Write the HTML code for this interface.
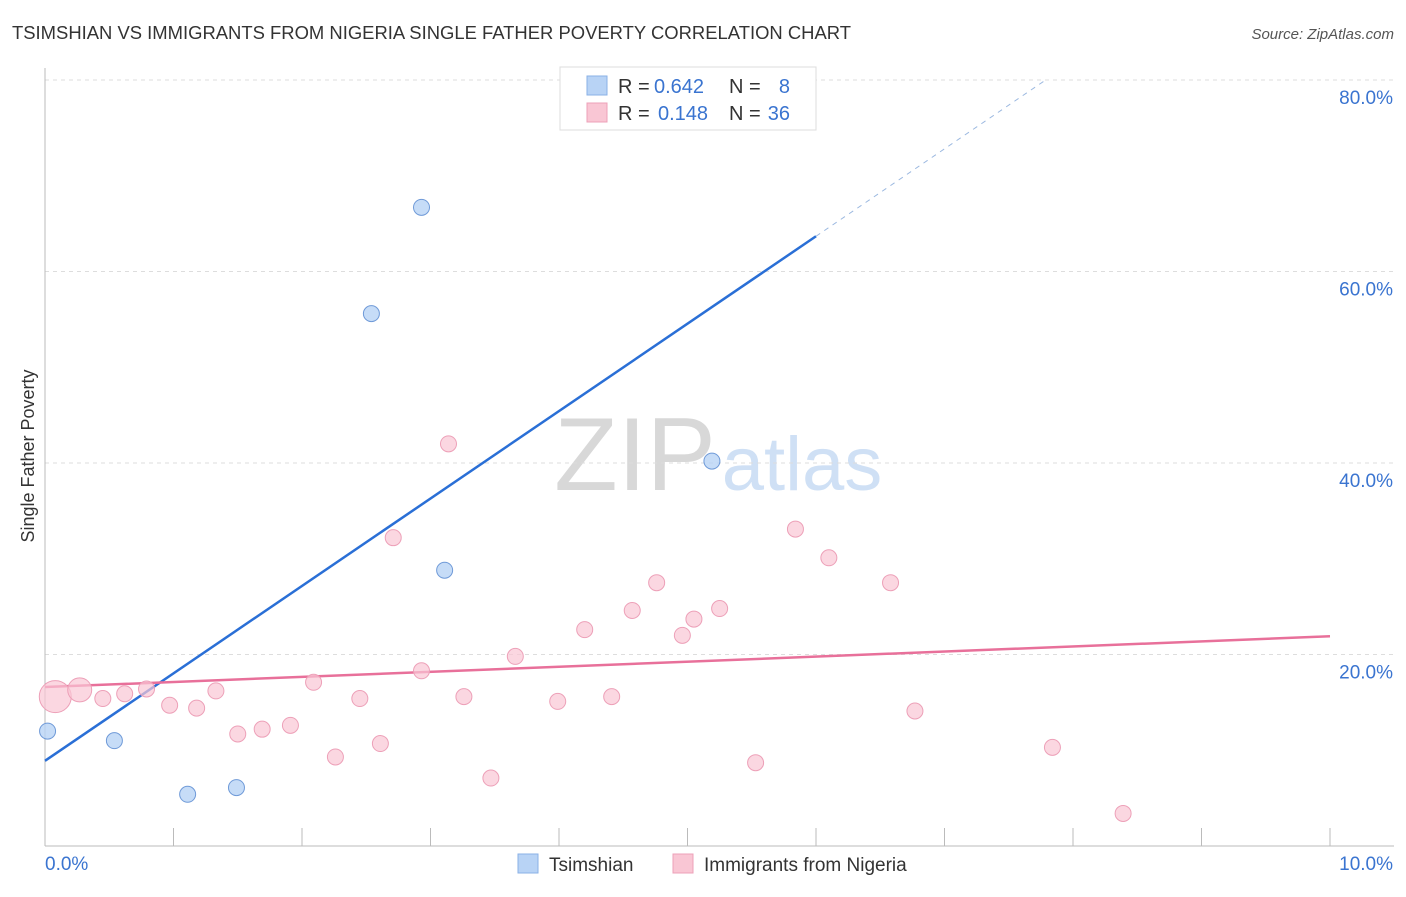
<!DOCTYPE html>
<html><head><meta charset="utf-8"><style>
body{margin:0;background:#fff;font-family:"Liberation Sans",sans-serif;}
svg text{font-family:"Liberation Sans",sans-serif;}
</style></head><body>
<svg id="chart" width="1406" height="892">
<text x="12" y="39" font-size="18" fill="#333" textLength="839" lengthAdjust="spacingAndGlyphs">TSIMSHIAN VS IMMIGRANTS FROM NIGERIA SINGLE FATHER POVERTY CORRELATION CHART</text>
<text x="1394" y="39" font-size="15" fill="#555" font-style="italic" text-anchor="end">Source: ZipAtlas.com</text>
<text x="635" y="490" font-size="104" fill="#d8d8d8" font-family="Liberation Serif" text-anchor="middle">ZIP</text>
<text x="802" y="490" font-size="76" fill="#cfe0f5" text-anchor="middle">atlas</text>
<g id="grid"></g>
<g id="axes"></g>
<g id="lines"></g>
<g id="points"></g>
<text x="34" y="456" font-size="18" fill="#333" text-anchor="middle" transform="rotate(-90 34 456)">Single Father Poverty</text>
<g>
<rect x="560" y="67" width="256" height="63" fill="#fff" stroke="#ddd"/>
<rect x="587" y="76" width="20" height="19" fill="#b8d3f5" stroke="#8ab0e6"/>
<rect x="587" y="103" width="20" height="19" fill="#f9c6d4" stroke="#eda0b8"/>
<text x="618" y="93" font-size="20" fill="#333">R =</text><text x="654" y="93" font-size="20" fill="#3a74d0">0.642</text>
<text x="729" y="93" font-size="20" fill="#333">N =</text><text x="790" y="93" font-size="20" fill="#3a74d0" text-anchor="end">8</text>
<text x="618" y="120" font-size="20" fill="#333">R =</text><text x="658" y="120" font-size="20" fill="#3a74d0">0.148</text>
<text x="729" y="120" font-size="20" fill="#333">N =</text><text x="790" y="120" font-size="20" fill="#3a74d0" text-anchor="end">36</text>
</g>
<g>
<rect x="518" y="854" width="20" height="19" fill="#b8d3f5" stroke="#8ab0e6"/>
<text x="549" y="871" font-size="19" fill="#333">Tsimshian</text>
<rect x="673" y="854" width="20" height="19" fill="#f9c6d4" stroke="#eda0b8"/>
<text x="704" y="871" font-size="19" fill="#333">Immigrants from Nigeria</text>
</g>
</svg>
<script>
const blueX=[2.93,2.54,5.19,3.11,0.02,0.54,1.11,1.49];
const blueY=[66.7,55.6,40.2,28.8,12.0,11.0,5.4,6.1];
const pinkX=[0.08,0.27,0.45,0.62,0.79,0.97,1.18,1.33,1.50,1.69,1.91,2.09,2.26,2.45,2.61,2.71,2.93,3.14,3.26,3.47,3.66,3.99,4.20,4.41,4.57,4.76,4.96,5.05,5.25,5.53,5.84,6.10,6.58,6.77,7.84,8.39];
const pinkY=[15.6,16.3,15.4,15.9,16.4,14.7,14.4,16.2,11.7,12.2,12.6,17.1,9.3,15.4,10.7,32.2,18.3,42.0,15.6,7.1,19.8,15.1,22.6,15.6,24.6,27.5,22.0,23.7,24.8,8.7,33.1,30.1,27.5,14.1,10.3,3.4];
const yTicks=[20,40,60,80];
const xTickLabels=["0.0%","10.0%"];
const blueLine=[8.9,100.2];
const pinkLine=[16.6,21.9];
const NS="http://www.w3.org/2000/svg";
const sx=v=>45+v*128.5, sy=v=>846-v*9.575;
function mk(p,t,a){const e=document.createElementNS(NS,t);for(const k in a)e.setAttribute(k,a[k]);p.appendChild(e);return e;}
const grid=document.getElementById('grid'),axes=document.getElementById('axes'),lines=document.getElementById('lines'),pts=document.getElementById('points');
yTicks.forEach(t=>{
 const l=mk(grid,'line',{x1:45,x2:1394,y1:sy(t),y2:sy(t),stroke:'#ddd','stroke-dasharray':'4,4'});
 
 
 const tx=mk(axes,'text',{x:1393,y:sy(t)+24,'font-size':19,fill:'#3a74d0','text-anchor':'end'});
 tx.textContent=t.toFixed(1)+'%';
 
 
});
const ax=mk(axes,'line',{x1:45,x2:1394,y1:846,y2:846,stroke:'#bbb'});


const ay=mk(axes,'line',{x1:45,x2:45,y1:68,y2:846,stroke:'#bbb'});


for(let i=1;i<=10;i++){
 const t=mk(axes,'line',{x1:sx(i),x2:sx(i),y1:828,y2:846,stroke:'#bbb'});
 
 
}
[[45,'start'],[1393,'end']].forEach((d,i)=>{
 const tx=mk(axes,'text',{x:d[0],y:870,'font-size':19,fill:'#3a74d0','text-anchor':d[1]});
 tx.textContent=xTickLabels[i];
 
 
});
const bEnd=6.0, bDashEnd=7.8;
const bl=v=>blueLine[0]+(blueLine[1]-blueLine[0])*v/10;
const l1=mk(lines,'line',{x1:sx(0),y1:sy(bl(0)),x2:sx(bEnd),y2:sy(bl(bEnd)),stroke:'#2a6fd6','stroke-width':2.5});


const l2=mk(lines,'line',{x1:sx(bEnd),y1:sy(bl(bEnd)),x2:sx(bDashEnd),y2:sy(bl(bDashEnd)),stroke:'#9bb8e0','stroke-width':1,'stroke-dasharray':'5,5'});


const l3=mk(lines,'line',{x1:sx(0),y1:sy(pinkLine[0]),x2:sx(10),y2:sy(pinkLine[1]),stroke:'#e8709a','stroke-width':2.5});


pinkX.forEach((x,i)=>{
 const r=i==0?16:(i==1?12:8);
 const c=mk(pts,'circle',{cx:sx(x),cy:sy(pinkY[i]),r:r,fill:'#f9c6d4','fill-opacity':0.7,stroke:'#eda0b8'});
 
 
});
blueX.forEach((x,i)=>{
 const c=mk(pts,'circle',{cx:sx(x),cy:sy(blueY[i]),r:8,fill:'#b8d3f5','fill-opacity':0.8,stroke:'#6f9ad8'});
 
 
});
</script>
</body></html>
